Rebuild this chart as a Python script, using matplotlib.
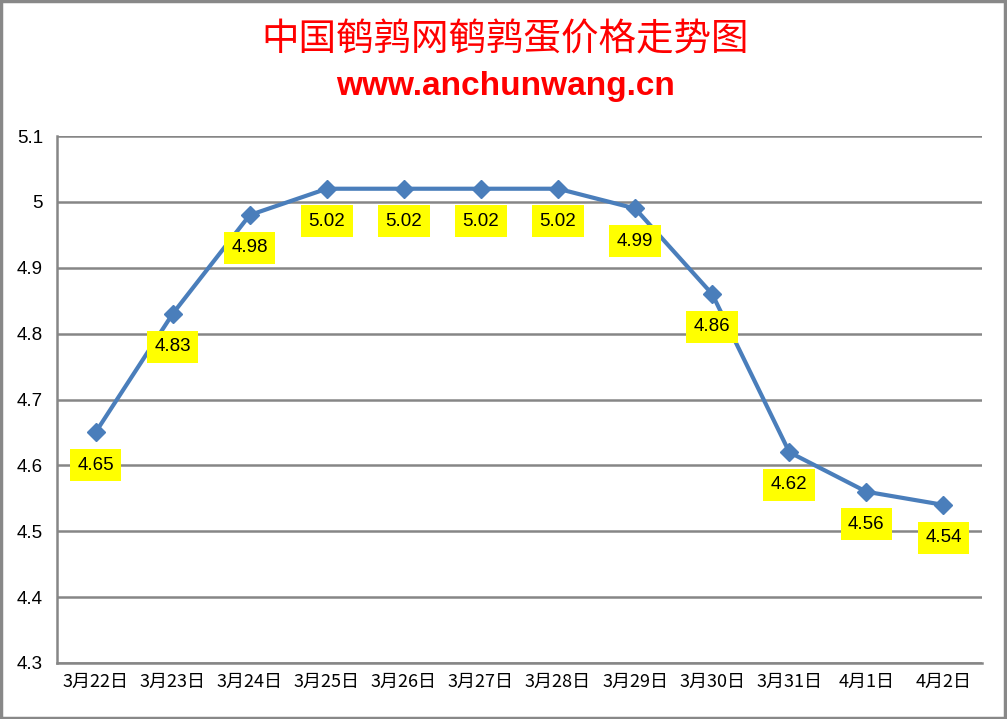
import matplotlib
matplotlib.use("Agg")
import matplotlib.pyplot as plt
from matplotlib.patches import Rectangle

plt.rcParams['font.family'] = ['Noto Sans CJK SC', 'DejaVu Sans']

categories = ["3月22日", "3月23日", "3月24日", "3月25日", "3月26日", "3月27日",
              "3月28日", "3月29日", "3月30日", "3月31日", "4月1日", "4月2日"]
prices = [4.65, 4.83, 4.98, 5.02, 5.02, 5.02, 5.02, 4.99, 4.86, 4.62, 4.56, 4.54]
yticks = [4.3, 4.4, 4.5, 4.6, 4.7, 4.8, 4.9, 5.0, 5.1]
ytick_labels = ["4.3", "4.4", "4.5", "4.6", "4.7", "4.8", "4.9", "5", "5.1"]

fig = plt.figure(figsize=(10.07, 7.19), dpi=100)
ax = fig.add_axes([0.0566, 0.0779, 0.9186, 0.7329])

x = list(range(len(categories)))
ax.plot(x, prices, color="#4A7EBB", linewidth=3, marker="D", markersize=9,
        zorder=3, solid_joinstyle="round")

for xi, v in zip(x, prices):
    ax.annotate(f"{v:.2f}", (xi, v), xytext=(0, -23.5), textcoords="offset points",
                ha="center", va="center", fontsize=13.5, family=['Liberation Sans', 'DejaVu Sans'],
                bbox=dict(boxstyle="square,pad=0.4", fc="#FFFF00", ec="none"), zorder=4)

ax.set_xlim(-0.5, len(categories) - 0.5)
ax.set_ylim(4.3, 5.1)
ax.set_yticks(yticks)
ax.set_yticklabels(ytick_labels, fontsize=13.5, family=['Liberation Sans', 'DejaVu Sans'])
ax.set_xticks(x)
ax.set_xticklabels(categories, fontsize=13)
ax.tick_params(axis="both", length=0)
ax.tick_params(axis="y", pad=10)
ax.tick_params(axis="x", pad=7)
ax.yaxis.grid(True, color="#868686", linewidth=1.8)
ax.set_axisbelow(True)
for s in ["top", "right"]:
    ax.spines[s].set_visible(False)
ax.spines["left"].set_color("#868686")
ax.spines["left"].set_linewidth(1.8)
ax.spines["bottom"].set_color("#868686")
ax.spines["bottom"].set_linewidth(1.8)

fig.text(0.502, 0.944, "中国鹌鹑网鹌鹑蛋价格走势图", color="#FF0000", fontsize=27,
         ha="center", va="center")
fig.text(0.502, 0.880, "www.anchunwang.cn", color="#FF0000", fontsize=24,
         fontweight="bold", ha="center", va="center", family=['Liberation Sans', 'DejaVu Sans'])

fig.patches.append(Rectangle((0.001, 0.001), 0.997, 0.997, transform=fig.transFigure,
                             fill=False, ec="#888888", lw=2.5))

fig.savefig("out.png", dpi=100)
